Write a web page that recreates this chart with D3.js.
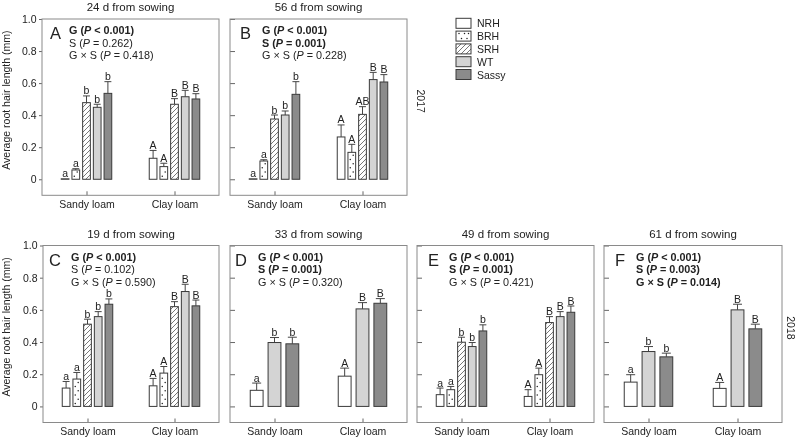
<!DOCTYPE html>
<html><head><meta charset="utf-8">
<script src="https://cdn.jsdelivr.net/npm/d3@7"></script>
<style>
body{margin:0;background:#fff}
svg{display:block;filter:grayscale(1)}
text{font-family:"Liberation Sans",Arial,Helvetica,sans-serif;fill:#222}
</style>
</head><body><svg id="c" width="797" height="442"></svg>
<script>
// ---------- data ----------
const genotypes = ["NRH","BRH","SRH","WT","Sassy"];
const genotypes3 = ["NRH","WT","Sassy"];
const soils = ["Sandy loam","Clay loam"];
const panelLetters = ["A","B","C","D","E","F"];
const panelTitles = ["24 d from sowing","56 d from sowing","19 d from sowing","33 d from sowing","49 d from sowing","61 d from sowing"];
const yearLabels = ["2017","2018"];
const yTicks = [0,0.2,0.4,0.6,0.8,1.0];
const yTickLabels = ["0","0.2","0.4","0.6","0.8","1.0"];
const yTitle = "Average root hair length (mm)";

// values listed sandy loam genotypes first, then clay loam genotypes
const meanA = [0.003,0.058,0.478,0.449,0.536, 0.131,0.079,0.468,0.515,0.501];
const errA  = [0,0.008,0.042,0.019,0.073, 0.049,0.021,0.035,0.040,0.033];
const sigA  = ["a","a","b","b","b", "A","A","B","B","B"];

const meanB = [0.003,0.114,0.376,0.401,0.530, 0.264,0.168,0.405,0.622,0.607];
const errB  = [0,0.008,0.025,0.025,0.079, 0.075,0.050,0.048,0.045,0.046];
const sigB  = ["a","a","b","b","b", "A","A","AB","B","B"];

const meanC = [0.114,0.170,0.511,0.558,0.635, 0.128,0.207,0.620,0.714,0.625];
const errC  = [0.041,0.041,0.031,0.031,0.033, 0.046,0.041,0.031,0.045,0.036];
const sigC  = ["a","a","b","b","b", "A","A","B","B","B"];

const meanD = [0.100,0.397,0.389, 0.188,0.606,0.641];
const errD  = [0.045,0.031,0.041, 0.050,0.039,0.029];
const sigD  = ["a","b","b", "A","B","B"];

const meanE = [0.073,0.104,0.399,0.372,0.469, 0.062,0.197,0.521,0.558,0.585];
const errE  = [0.041,0.020,0.031,0.025,0.038, 0.042,0.041,0.037,0.031,0.039];
const sigE  = ["a","a","b","b","b", "A","A","B","B","B"];

const meanF = [0.151,0.341,0.308, 0.112,0.600,0.482];
const errF  = [0.046,0.031,0.023, 0.037,0.035,0.029];
const sigF  = ["a","b","b", "A","B","B"];

// statistics text: [term, p-text, bold]
const statsA = [["G","< 0.001",true],["S","= 0.262",false],["G × S","= 0.418",false]];
const statsB = [["G","< 0.001",true],["S","= 0.001",true],["G × S","= 0.228",false]];
const statsC = [["G","< 0.001",true],["S","= 0.102",false],["G × S","= 0.590",false]];
const statsD = [["G","< 0.001",true],["S","= 0.001",true],["G × S","= 0.320",false]];
const statsE = [["G","< 0.001",true],["S","= 0.001",true],["G × S","= 0.421",false]];
const statsF = [["G","< 0.001",true],["S","= 0.003",true],["G × S","= 0.014",true]];

// ---------- layout ----------
const rows = [{top:19,bottom:195.3},{top:245.5,bottom:422.5}];
const panels = [
  {x0:42, x1:219,row:0,lx:8, tx:27,gens:genotypes, mean:meanA,err:errA,sig:sigA,stats:statsA,first:true},
  {x0:230,x1:407,row:0,lx:10,tx:32,gens:genotypes, mean:meanB,err:errB,sig:sigB,stats:statsB,first:false},
  {x0:43, x1:219,row:1,lx:6, tx:28,gens:genotypes, mean:meanC,err:errC,sig:sigC,stats:statsC,first:true},
  {x0:230,x1:407,row:1,lx:5, tx:28,gens:genotypes3,mean:meanD,err:errD,sig:sigD,stats:statsD,first:false},
  {x0:417,x1:594,row:1,lx:11,tx:32,gens:genotypes, mean:meanE,err:errE,sig:sigE,stats:statsE,first:false},
  {x0:604,x1:782,row:1,lx:11,tx:32,gens:genotypes3,mean:meanF,err:errF,sig:sigF,stats:statsF,first:false}
];

const fills = {NRH:"#ffffff",BRH:"#ffffff",SRH:"url(#hatch)",WT:"#d4d4d4",Sassy:"#8b8b8b"};
const svg = d3.select("#c");

const defs = svg.append("defs");
const hp = defs.append("pattern").attr("id","hatch").attr("patternUnits","userSpaceOnUse")
  .attr("width",5).attr("height",5);
hp.append("rect").attr("width",5).attr("height",5).attr("fill","#fff");
hp.append("path").attr("d","M-1,1 L1,-1 M0,5 L5,0 M4,6 L6,4").attr("stroke","#555").attr("stroke-width",0.8);

function addDots(g, x, y, w, h){
  const out = [];
  let k = 0;
  for(let yy = y + h - 3; yy > y + 1.5; yy -= 4.2){
    out.push([x + (k % 2 ? w*0.68 : w*0.3), yy]);
    k++;
  }
  g.selectAll(null).data(out).enter().append("circle")
    .attr("cx",d=>d[0]).attr("cy",d=>d[1]).attr("r",0.75).attr("fill","#222");
}

function statLine(sel, term, ptxt, bold){
  sel.attr("font-weight", bold ? "bold" : "normal");
  sel.append("tspan").text(term + " (");
  sel.append("tspan").attr("font-style","italic").text("P");
  sel.append("tspan").text(" " + ptxt + ")");
}

panels.forEach((p,pi)=>{
  const r = rows[p.row];
  const y = d3.scaleLinear().domain([-0.1,1.0]).range([r.bottom,r.top]);
  const xs = d3.scalePoint().domain(soils).range([p.x0+44.5, p.x1-44.5]);
  const xi = d3.scaleBand().domain(p.gens).range([-26.75,26.75]).paddingInner(0.28).paddingOuter(0.14);
  const g = svg.append("g");

  // y axis
  const ya = d3.axisLeft(y).tickValues(yTicks);
  if(p.first){ ya.tickSize(3).tickPadding(2.5).tickFormat((d,i)=>yTickLabels[i]); }
  else { ya.tickSize(-5).tickFormat(""); }
  const yg = g.append("g").attr("transform",`translate(${p.x0},0)`).call(ya);
  yg.select(".domain").remove();
  yg.selectAll("line").attr("stroke","#666");
  yg.selectAll("text").attr("font-size","10.5px").attr("fill","#222").attr("font-family",null);

  // x axis
  const xa = d3.axisBottom(xs).tickSize(-4).tickPadding(5.5);
  const xg = g.append("g").attr("transform",`translate(0,${r.bottom})`).call(xa);
  xg.select(".domain").remove();
  xg.selectAll("line").attr("stroke","#666");
  xg.selectAll("text").attr("font-size","10.5px").attr("fill","#222").attr("font-family",null);

  // frame
  g.append("rect").attr("x",p.x0).attr("y",r.top).attr("width",p.x1-p.x0).attr("height",r.bottom-r.top)
    .attr("fill","none").attr("stroke","#8a8a8a").attr("stroke-width",1);

  // bars
  const n = p.gens.length;
  const data = [];
  soils.forEach((s,si)=>p.gens.forEach((gn,gi)=>{
    const k = si*n+gi;
    data.push({soil:s,gen:gn,mean:p.mean[k],err:p.err[k],sig:p.sig[k]});
  }));
  const bw = xi.bandwidth();
  const cap = Math.min(bw*0.9, 9);
  data.forEach(d=>{
    const bx = xs(d.soil) + xi(d.gen);
    const top = y(d.mean), base = y(0);
    const cx = bx + bw/2;
    if(d.err>0){
      const et = y(d.mean + d.err);
      g.append("line").attr("x1",cx).attr("x2",cx).attr("y1",top).attr("y2",et).attr("stroke","#444");
      g.append("line").attr("x1",cx-cap/2).attr("x2",cx+cap/2).attr("y1",et).attr("y2",et).attr("stroke","#444");
    }
    g.append("rect").attr("x",bx).attr("y",top).attr("width",bw).attr("height",Math.max(0,base-top))
      .attr("fill",fills[d.gen]).attr("stroke","#3a3a3a").attr("stroke-width",1);
    if(d.gen==="BRH") addDots(g,bx,top,bw,base-top);
    g.append("text").attr("x",cx).attr("y",y(d.mean+d.err)-1.5).attr("text-anchor","middle")
      .attr("font-size","10.5px").text(d.sig);
  });

  // panel letter, stats, title
  g.append("text").attr("x",p.x0+p.lx).attr("y",r.top+20).attr("font-size","16.5px").text(panelLetters[pi]);
  p.stats.forEach((s,i)=>{
    const t = g.append("text").attr("x",p.x0+p.tx).attr("y",r.top+15+i*12.6).attr("font-size","10.8px");
    statLine(t,s[0],s[1],s[2]);
  });
  g.append("text").attr("x",(p.x0+p.x1)/2).attr("y",r.top-8).attr("text-anchor","middle")
    .attr("font-size","11.5px").text(panelTitles[pi]);

  if(p.first){
    g.append("text").attr("transform",`translate(10,${y(0.5)+1}) rotate(-90)`).attr("text-anchor","middle")
      .attr("font-size","10.5px").text(yTitle);
  }
});

// year labels
const yrX = [417, 786.5];
rows.forEach((r,i)=>{
  const y = d3.scaleLinear().domain([-0.1,1.0]).range([r.bottom,r.top]);
  svg.append("text").attr("transform",`translate(${yrX[i]},${y(0.5)+2}) rotate(90)`).attr("text-anchor","middle")
    .attr("font-size","10.5px").text(yearLabels[i]);
});

// legend
const ly = d3.scalePoint().domain(genotypes).range([23.3,74.5]);
const lg = svg.append("g");
genotypes.forEach(gn=>{
  const cy = ly(gn);
  lg.append("rect").attr("x",456).attr("y",cy-5).attr("width",15).attr("height",10)
    .attr("fill",fills[gn]).attr("stroke","#3a3a3a").attr("stroke-width",1);
  if(gn==="BRH"){
    const pts = [[459,cy-2.5],[464.5,cy-2.5],[468.5,cy-2.5],[461.5,cy+2.5],[467,cy+2.5]];
    lg.selectAll(null).data(pts).enter().append("circle").attr("cx",d=>d[0]).attr("cy",d=>d[1]).attr("r",0.75).attr("fill","#222");
  }
  lg.append("text").attr("x",477).attr("y",cy+4).attr("font-size","10.5px").text(gn);
});
</script>
</body></html>
